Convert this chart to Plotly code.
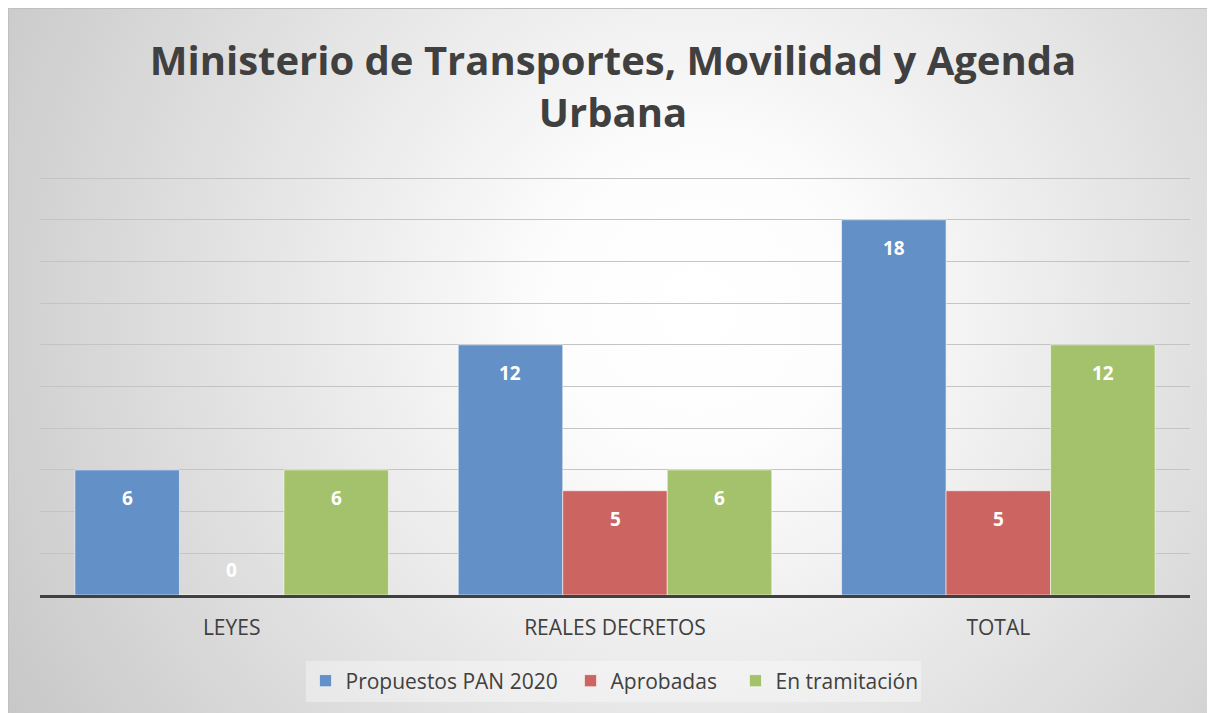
import base64
import plotly.graph_objects as go

categories = ["LEYES", "REALES DECRETOS", "TOTAL"]
propuestos = [6, 12, 18]
aprobadas = [0, 5, 5]
tramitacion = [6, 6, 12]
series_names = ["Propuestos PAN 2020", "Aprobadas", "En tramitación"]
series_colors = ["#6390C6", "#CC6462", "#A4C26C"]
legend_widths = [220, 120, 140]

W, H = 1207, 705
L, R, T, B = 32, 25, 168, 118
PW, PH = W - L - R, H - T - B
BARGAP = 0.182
YMAX = 20.1

def px_to_paper_x(px):
    return (px - L) / PW

def py_to_paper_y(py):
    return (H - B - py) / PH

svg = f'''<svg xmlns="http://www.w3.org/2000/svg" width="{W}" height="{H}" viewBox="0 0 {W} {H}" preserveAspectRatio="none">
<defs><radialGradient id="g" gradientUnits="userSpaceOnUse" cx="690" cy="300" r="820">
<stop offset="0" stop-color="#ffffff"/><stop offset="0.18" stop-color="#fdfdfd"/><stop offset="1" stop-color="#c6c6c6"/>
</radialGradient></defs>
<rect x="0" y="0" width="{W}" height="{H}" fill="url(#g)"/>
<line x1="0.5" y1="0" x2="0.5" y2="{H}" stroke="#c0c0c0" stroke-width="1"/>
<line x1="0" y1="0.5" x2="{W}" y2="0.5" stroke="#c0c0c0" stroke-width="1"/>
</svg>'''
src = "data:image/svg+xml;base64," + base64.b64encode(svg.encode()).decode()

fig = go.Figure()
all_series = [propuestos, aprobadas, tramitacion]
for name, vals, col, lw in zip(series_names, all_series, series_colors, legend_widths):
    fig.add_trace(go.Bar(
        x=categories, y=vals, name=name, legendwidth=lw,
        marker=dict(color=col, line=dict(color="rgba(255,255,255,0.55)", width=1)),
    ))

bar_px = PW / len(categories) * (1 - BARGAP) / len(all_series)
annotations = []
for i, vals in enumerate(all_series):
    for c, v in zip(categories, vals):
        annotations.append(dict(
            x=c, y=v, xref="x", yref="y", text=str(v), showarrow=False,
            xshift=(i - 1) * bar_px, yshift=(-28 if v > 0 else 25),
            font=dict(family="Open Sans", size=19, color="white", weight="bold"),
        ))

fig.update_layout(
    width=W, height=H,
    margin=dict(l=L, r=R, t=T, b=B),
    paper_bgcolor="white", plot_bgcolor="rgba(0,0,0,0)",
    barmode="group", bargap=BARGAP, bargroupgap=0,
    title=dict(
        text="Ministerio de Transportes, Movilidad y Agenda<br>Urbana",
        x=px_to_paper_x(605), xanchor="center", xref="paper",
        y=1 - 67 / H, yanchor="top", yref="container",
        font=dict(family="Open Sans", size=40, color="#404040", weight="bold"),
    ),
    xaxis=dict(
        showline=True, linecolor="#404040", linewidth=3,
        showgrid=False, ticks="", ticklabelstandoff=12,
        tickfont=dict(family="Open Sans", size=21, color="#404040"),
    ),
    yaxis=dict(
        range=[0, YMAX], tick0=0, dtick=2, showticklabels=False,
        showgrid=True, gridcolor="#c4c4c4", gridwidth=1, zeroline=False,
    ),
    legend=dict(
        orientation="h", x=px_to_paper_x(605), xanchor="center",
        y=py_to_paper_y(673), yanchor="middle",
        bgcolor="rgba(255,255,255,0.35)",
        font=dict(family="Open Sans", size=21, color="#404040"),
        itemwidth=30,
    ),
    annotations=annotations,
    images=[dict(
        source=src, xref="paper", yref="paper",
        x=px_to_paper_x(0), y=py_to_paper_y(0),
        sizex=W / PW, sizey=H / PH,
        xanchor="left", yanchor="top", sizing="stretch", layer="below",
    )],
    showlegend=True,
)

fig.write_html("out.html")
